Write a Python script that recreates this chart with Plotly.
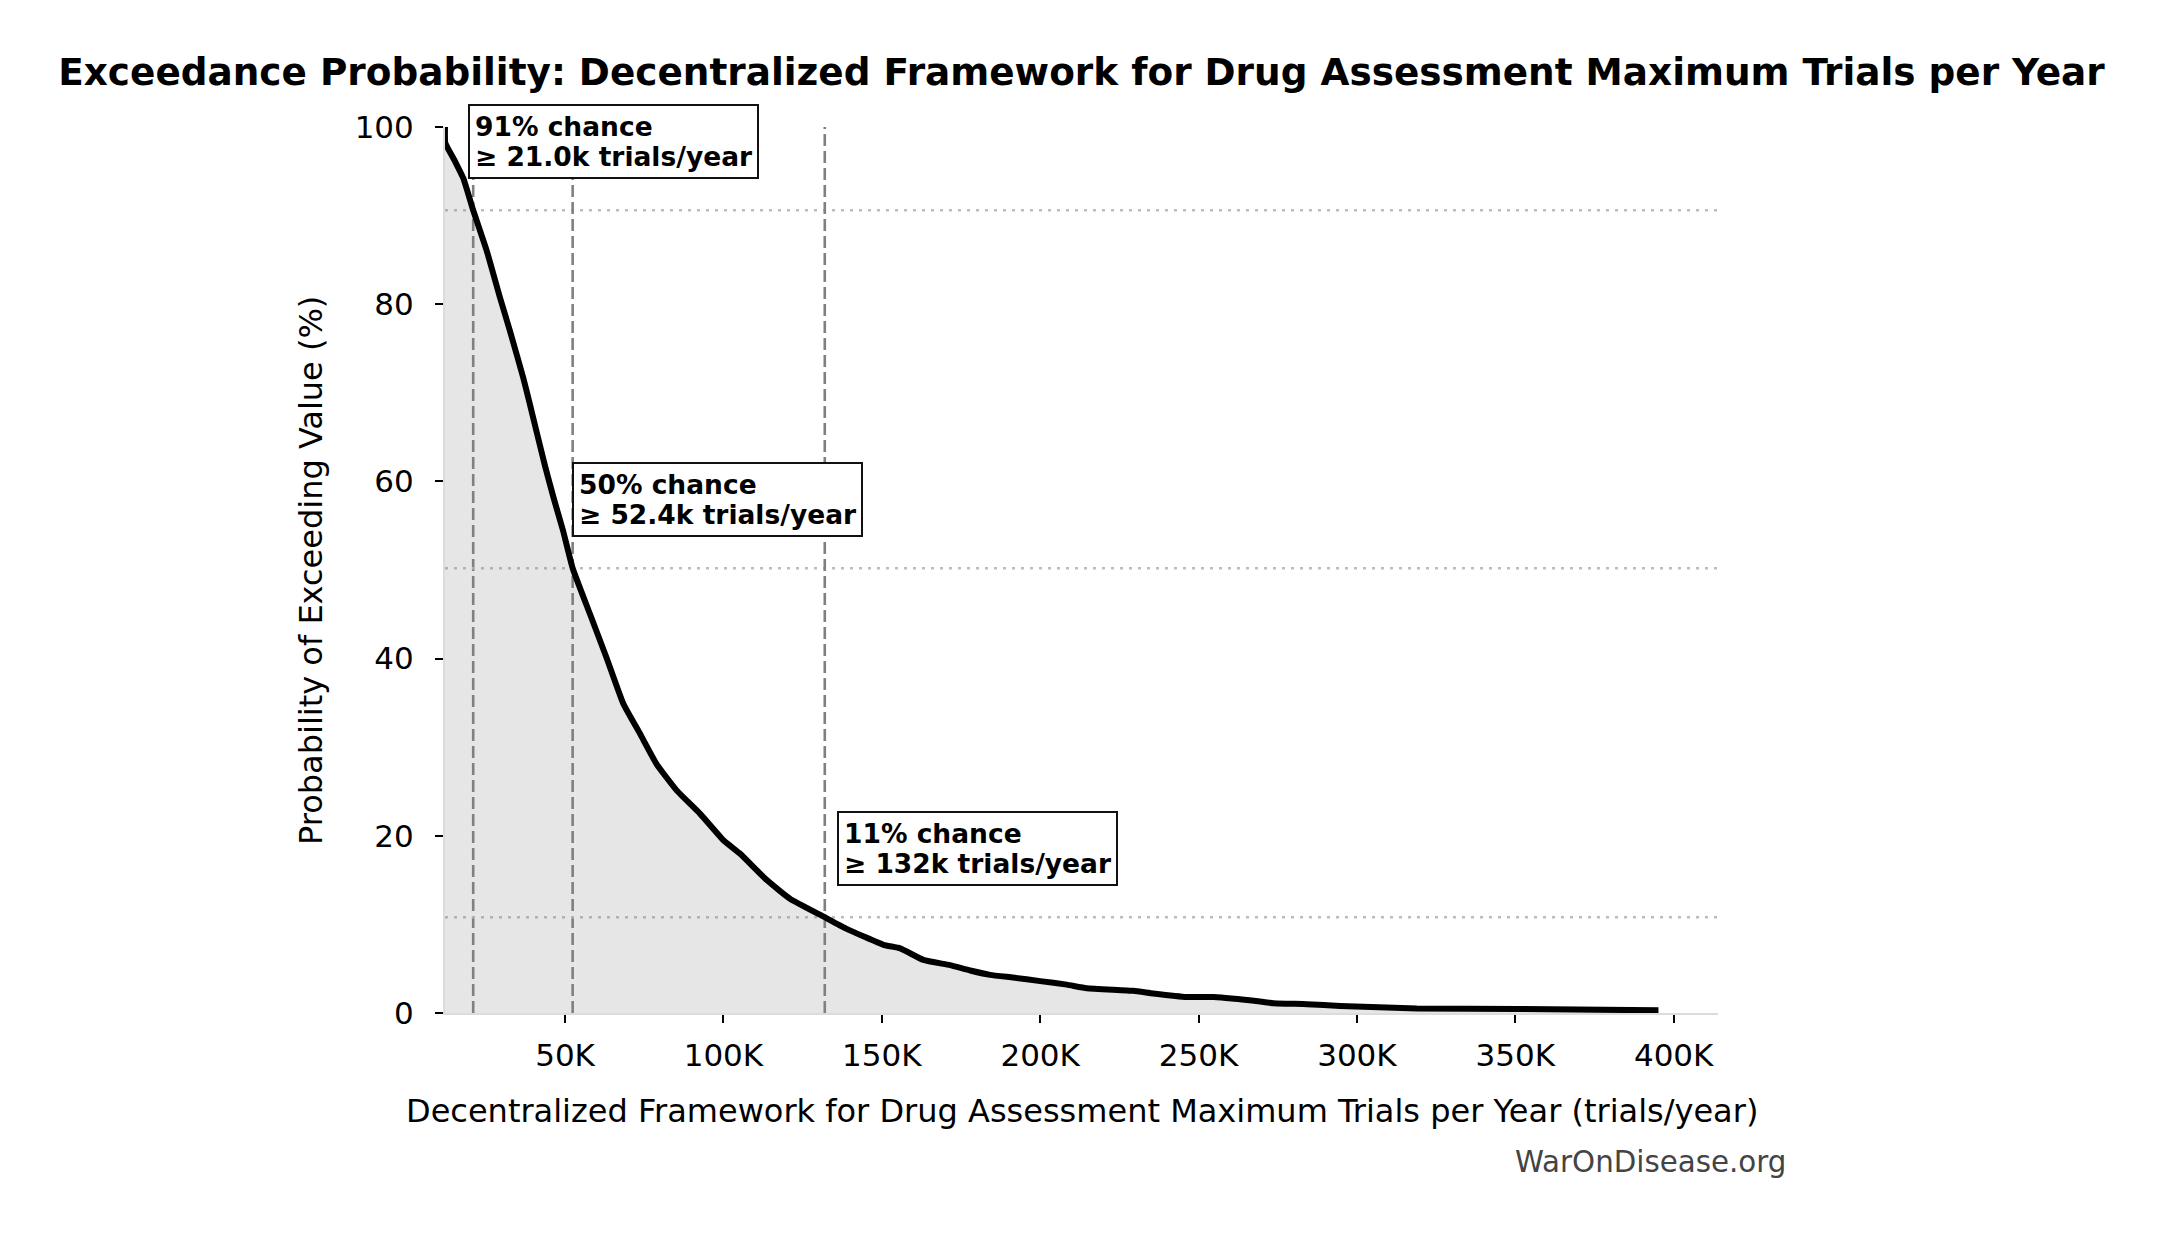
import plotly.graph_objects as go

# ---- data ----
trials = [12100, 12200, 15300, 17900, 21000, 25300, 29500, 32600, 36800, 38900,
          43700, 46500, 49400, 52400, 57900, 63100, 68400, 73700, 78900, 85300,
          92600, 100000, 105200, 113700, 121000, 131500, 138900, 150500, 155800,
          163100, 171500, 177900, 184200, 191500, 200000, 208400, 214700, 229400,
          235700, 246300, 254700, 269400, 273600, 284200, 294700, 318900, 351000,
          395200]
exceed_pct = [100.0, 98.2, 96.1, 94.2, 90.6, 86.0, 80.7, 77.0, 71.7, 68.7,
              61.7, 58.0, 54.4, 50.2, 45.0, 40.1, 34.9, 31.5, 28.1, 25.1,
              22.5, 19.5, 18.0, 15.0, 12.9, 10.9, 9.5, 7.7, 7.3,
              6.0, 5.4, 4.8, 4.3, 4.0, 3.6, 3.2, 2.8, 2.5,
              2.2, 1.8, 1.8, 1.3, 1.1, 1.0, 0.8, 0.5, 0.45,
              0.3]

marker_values = [21000, 52400, 132000]
marker_probs = [90.6, 50.2, 10.8]
marker_pct_labels = ["91", "50", "11"]
marker_value_labels = ["21.0k", "52.4k", "132k"]

x_tickvals = [50000, 100000, 150000, 200000, 250000, 300000, 350000, 400000]
x_ticktext = ["50K", "100K", "150K", "200K", "250K", "300K", "350K", "400K"]
y_tickvals = [0, 20, 40, 60, 80, 100]

x_range = [12100, 414000]
y_range = [0, 100]

FONT = "DejaVu Sans"

fig = go.Figure()

fig.add_trace(go.Scatter(
    x=trials, y=exceed_pct, mode="lines",
    line=dict(color="black", width=6, shape="spline", smoothing=0.4),
    fill="tozeroy", fillcolor="rgba(128,128,128,0.2)",
    hoverinfo="skip", showlegend=False,
))

shapes = []
for v, p in zip(marker_values, marker_probs):
    shapes.append(dict(type="line", xref="x", yref="y", x0=v, x1=v, y0=y_range[0], y1=y_range[1],
                       line=dict(color="#808080", width=2.6, dash="12px,5px"), layer="below"))
    shapes.append(dict(type="line", xref="x", yref="y", x0=x_range[0], x1=x_range[1], y0=p, y1=p,
                       line=dict(color="#bdbdbd", width=2.6, dash="3px,6px"), layer="below"))

annotations = []
for v, p, pl, vl in zip(marker_values, marker_probs, marker_pct_labels, marker_value_labels):
    txt = (f"<span style='font-size:26.5px'>{pl}% chance</span><br>"
           f"<span style='font-size:26.5px'>≥ {vl} trials/year</span>")
    annotations.append(dict(
        x=v * 1.05, y=p + 3.5, xref="x", yref="y", text=txt, showarrow=False,
        xanchor="left", yanchor="bottom", align="left", xshift=-9,
        font=dict(family=FONT, size=23, color="black", weight="bold"),
        bgcolor="white", bordercolor="#111111", borderwidth=2, borderpad=5,
    ))

# axis titles and watermark
annotations.append(dict(
    text="Decentralized Framework for Drug Assessment Maximum Trials per Year (trials/year)",
    xref="paper", yref="paper", x=0.5, y=-0.1105, xanchor="center", yanchor="middle",
    showarrow=False, font=dict(family=FONT, size=32, color="black")))
annotations.append(dict(
    text="Probability of Exceeding Value (%)",
    xref="paper", yref="paper", x=-0.1053, y=0.5, xanchor="center", yanchor="middle",
    textangle=-90, showarrow=False, font=dict(family=FONT, size=32, color="black")))
annotations.append(dict(
    text="WarOnDisease.org",
    xref="paper", yref="paper", x=1.0553, y=-0.168, xanchor="right", yanchor="middle",
    showarrow=False, font=dict(family=FONT, size=29.3, color="#444444")))

# the page adds an 8px body margin, so the figure is drawn 16px smaller and offset
fig.update_layout(
    width=2145, height=1218,
    margin=dict(l=437, r=435, t=119, b=213),
    paper_bgcolor="white", plot_bgcolor="white",
    title=dict(text="Exceedance Probability: Decentralized Framework for Drug Assessment Maximum Trials per Year",
               x=0.5, xref="paper", xanchor="center", y=1 - 64 / 1218, yref="container", yanchor="middle",
               font=dict(family=FONT, size=37.4, color="black", weight="bold")),
    font=dict(family=FONT, color="black"),
    shapes=shapes, annotations=annotations,
    showlegend=False,
)

fig.update_xaxes(
    range=x_range, tickvals=x_tickvals, ticktext=x_ticktext,
    showgrid=False, zeroline=False, showline=True, linecolor="#dcdcdc", linewidth=2,
    ticks="outside", ticklen=8, tickwidth=2, tickcolor="black",
    tickfont=dict(family=FONT, size=31, color="black"), ticklabelstandoff=6,
)
fig.update_yaxes(
    range=y_range, tickvals=y_tickvals,
    showgrid=False, zeroline=False, showline=True, linecolor="#dcdcdc", linewidth=2,
    ticks="outside", ticklen=8, tickwidth=2, tickcolor="black",
    tickfont=dict(family=FONT, size=31, color="black"), ticklabelstandoff=15,
)

fig.write_html("out.html")
